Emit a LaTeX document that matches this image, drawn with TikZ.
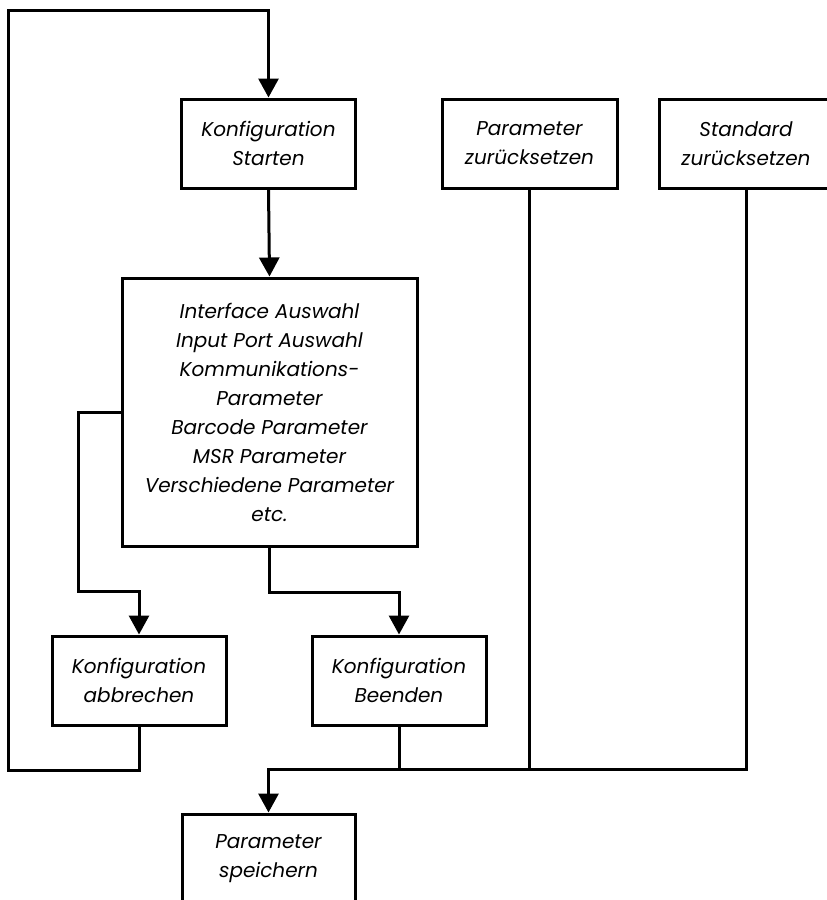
\documentclass[tikz,border=0pt]{standalone}
\usepackage{fontspec}
\setmainfont{Poppins}
\usetikzlibrary{arrows.meta}
\begin{document}
\begin{tikzpicture}[x=1pt,y=-1pt,
  box/.style={draw=black,line width=3pt,fill=white,minimum width=174pt,minimum height=89pt,inner sep=0pt,align=center,
    font=\fontsize{20}{29}\selectfont\itshape},
  conn/.style={draw=black,line width=3pt},
  arr/.style={conn,-{Triangle[length=19pt,width=20pt]}}]
\useasboundingbox (0,0) rectangle (827,900);
\clip (0,0) rectangle (827,900);
\fill[white] (0,0) rectangle (827,900);
\node[box] (start) at (268.5,143.5) {Konfiguration\\Starten};
\node[box,minimum width=175pt] (param) at (529.5,143.5) {Parameter\\zurücksetzen};
\node[box] (std) at (746,143.5) {Standard\\zurücksetzen};
\node[box,minimum width=295pt,minimum height=268pt] (main) at (269.5,412) {Interface Auswahl\\Input Port Auswahl\\Kommunikations-\\Parameter\\Barcode Parameter\\MSR Parameter\\Verschiedene Parameter\\etc.};
\node[box] (abb) at (139,680.5) {Konfiguration\\abbrechen};
\node[box] (been) at (399,680.5) {Konfiguration\\Beenden};
\node[box,minimum width=173pt] (save) at (268.5,858.5) {Parameter\\speichern};
\coordinate (topleft) at (8,10);
\coordinate (join) at (268.5,769);
\coordinate (lbranch) at (78,591);
\draw[arr] (abb.south) -- ++(0,44) -| (topleft) -| (start.north);
\draw[arr] (start.south) -- (main.north);
\draw[arr] (main.west) -| (lbranch) -| (abb.north);
\draw[arr] (main.south) -- ++(0,45) -| (been.north);
\draw[arr] (std.south) |- (join) -- (save.north);
\draw[conn] (param.south) -- (param.south |- join);
\draw[conn] (been.south) -- (been.south |- join);
\end{tikzpicture}
\end{document}
